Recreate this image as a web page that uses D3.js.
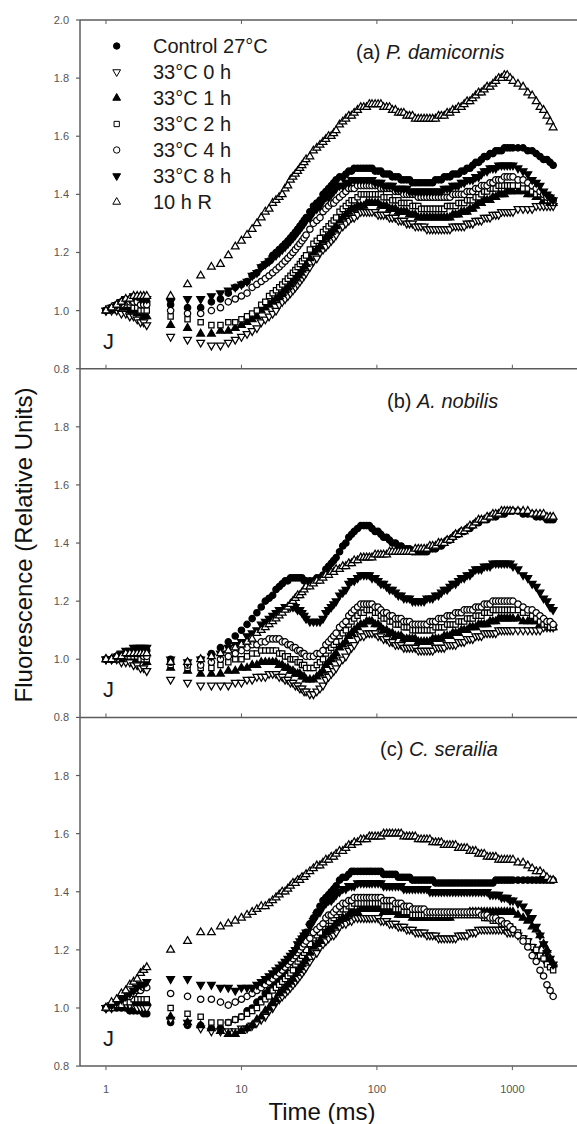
<!DOCTYPE html>
<html>
<head>
<meta charset="utf-8">
<script src="https://cdn.jsdelivr.net/npm/d3@7"></script>
<style>
  body { margin: 0; background: #fff; }
  svg { display: block; font-family: Arial, "Liberation Sans", Helvetica, sans-serif; }
</style>
</head>
<body>
<svg id="chart" width="577" height="1124"></svg>
<script>
// Sampling times (ms): J-phase block, 1 ms steps, then progressively wider steps to 2 s
const timeMs = [
  1.0,1.1,1.2,1.3,1.4,1.5,1.6,1.7,1.8,1.9,2.0,
  3,4,5,6,7,8,9,10,11,12,
  13,14,15,16,17,18,19,20,
  21,22,23,24,25,26,27,28,29,30,
  32,34,36,38,40,42,44,46,48,50,
  53,56,59,62,65,68,72,76,80,84,
  88,92,97,102,107,112,118,124,130,137,
  144,151,158,166,174,183,192,202,212,223,
  234,246,258,271,285,299,314,330,346,363,
  381,400,420,441,463,486,510,536,563,591,
  620,651,684,718,754,792,831,873,916,962,
  1010,1100,1200,1300,1400,1500,1600,1700,1800,1900,
  2000
];

const seriesNames = ["Control 27°C", "33°C 0 h", "33°C 1 h", "33°C 2 h", "33°C 4 h", "33°C 8 h", "10 h R"];
const xTickValues = [1, 10, 100, 1000];
const yTickValues = [0.8, 1.0, 1.2, 1.4, 1.6, 1.8, 2.0];

// ===== (a) P. damicornis =====
const ctrlA = [
  1.00,1.01,1.02,1.03,1.03,1.04,1.04,1.04,1.03,1.03,1.03,
  1.02,1.01,1.01,1.03,1.04,1.06,1.08,1.09,1.10,1.12,
  1.13,1.15,1.16,1.17,1.19,1.20,1.21,1.22,
  1.23,1.24,1.25,1.26,1.27,1.28,1.29,1.30,1.31,1.32,
  1.34,1.36,1.37,1.38,1.40,1.41,1.42,1.43,1.44,1.45,
  1.46,1.46,1.47,1.48,1.48,1.49,1.49,1.49,1.49,1.49,
  1.49,1.49,1.48,1.48,1.48,1.47,1.47,1.47,1.46,1.46,
  1.46,1.45,1.45,1.45,1.45,1.44,1.44,1.44,1.44,1.44,
  1.44,1.44,1.44,1.45,1.45,1.45,1.46,1.46,1.46,1.47,
  1.47,1.47,1.48,1.48,1.49,1.49,1.50,1.51,1.51,1.52,
  1.53,1.53,1.54,1.54,1.55,1.55,1.55,1.56,1.56,1.56,
  1.56,1.56,1.56,1.55,1.55,1.54,1.53,1.52,1.52,1.51,
  1.50];
const h0A = [
  1.00,1.00,1.00,0.99,0.99,0.98,0.98,0.97,0.96,0.96,0.95,
  0.91,0.90,0.89,0.88,0.88,0.89,0.90,0.91,0.92,0.93,
  0.94,0.96,0.97,0.98,0.99,1.00,1.02,1.03,
  1.04,1.05,1.06,1.07,1.08,1.09,1.10,1.11,1.12,1.13,
  1.15,1.17,1.18,1.20,1.21,1.22,1.23,1.24,1.25,1.26,
  1.28,1.29,1.30,1.31,1.32,1.32,1.33,1.34,1.34,1.34,
  1.34,1.34,1.34,1.33,1.33,1.33,1.33,1.32,1.32,1.32,
  1.31,1.31,1.31,1.30,1.30,1.30,1.29,1.29,1.29,1.29,
  1.28,1.28,1.28,1.28,1.28,1.28,1.28,1.28,1.28,1.29,
  1.29,1.29,1.29,1.29,1.30,1.30,1.30,1.31,1.31,1.31,
  1.32,1.32,1.32,1.33,1.33,1.33,1.34,1.34,1.34,1.34,
  1.34,1.35,1.35,1.35,1.35,1.36,1.36,1.36,1.36,1.36,
  1.36];
const h1A = [
  1.00,1.00,1.01,1.01,1.01,1.00,1.00,0.99,0.99,0.98,0.98,
  0.95,0.94,0.92,0.92,0.93,0.93,0.94,0.95,0.96,0.97,
  0.98,1.00,1.01,1.02,1.03,1.04,1.05,1.06,
  1.07,1.08,1.09,1.10,1.11,1.12,1.13,1.14,1.15,1.16,
  1.18,1.20,1.21,1.22,1.24,1.25,1.26,1.27,1.28,1.29,
  1.31,1.32,1.33,1.34,1.35,1.35,1.36,1.36,1.36,1.37,
  1.37,1.37,1.37,1.37,1.36,1.36,1.36,1.35,1.35,1.35,
  1.34,1.34,1.34,1.34,1.33,1.33,1.33,1.32,1.32,1.32,
  1.32,1.32,1.32,1.32,1.32,1.32,1.32,1.32,1.32,1.33,
  1.33,1.33,1.34,1.34,1.34,1.35,1.35,1.36,1.37,1.37,
  1.38,1.38,1.38,1.39,1.39,1.40,1.40,1.40,1.41,1.41,
  1.41,1.41,1.41,1.40,1.40,1.39,1.39,1.38,1.38,1.37,
  1.37];
const h2A = [
  1.00,1.01,1.01,1.02,1.02,1.02,1.01,1.01,1.00,1.00,1.00,
  0.98,0.97,0.96,0.95,0.95,0.96,0.96,0.97,0.98,0.99,
  1.00,1.02,1.03,1.05,1.06,1.07,1.08,1.09,
  1.10,1.11,1.12,1.13,1.14,1.15,1.16,1.17,1.18,1.19,
  1.21,1.23,1.24,1.25,1.27,1.28,1.29,1.30,1.31,1.32,
  1.34,1.35,1.36,1.37,1.38,1.38,1.39,1.40,1.40,1.40,
  1.40,1.40,1.40,1.40,1.40,1.39,1.39,1.39,1.38,1.38,
  1.38,1.37,1.37,1.37,1.37,1.36,1.36,1.36,1.35,1.35,
  1.35,1.35,1.35,1.35,1.35,1.35,1.35,1.36,1.36,1.36,
  1.36,1.37,1.37,1.37,1.38,1.38,1.38,1.39,1.39,1.40,
  1.41,1.41,1.42,1.42,1.42,1.43,1.43,1.43,1.43,1.43,
  1.43,1.43,1.42,1.42,1.41,1.40,1.40,1.39,1.38,1.38,
  1.37];
const h4A = [
  1.00,1.01,1.02,1.02,1.03,1.03,1.03,1.03,1.02,1.02,1.02,
  1.00,0.99,0.99,1.00,1.01,1.03,1.04,1.05,1.06,1.08,
  1.09,1.10,1.11,1.12,1.13,1.14,1.15,1.16,
  1.17,1.18,1.19,1.20,1.21,1.22,1.23,1.24,1.25,1.26,
  1.28,1.30,1.31,1.32,1.34,1.35,1.36,1.37,1.37,1.38,
  1.39,1.40,1.41,1.42,1.42,1.42,1.43,1.43,1.43,1.43,
  1.43,1.43,1.43,1.43,1.42,1.42,1.42,1.42,1.42,1.41,
  1.41,1.41,1.40,1.40,1.40,1.40,1.40,1.39,1.39,1.39,
  1.39,1.39,1.39,1.39,1.39,1.39,1.39,1.39,1.39,1.40,
  1.40,1.40,1.40,1.40,1.41,1.41,1.41,1.42,1.42,1.43,
  1.43,1.43,1.44,1.44,1.45,1.45,1.45,1.46,1.46,1.46,
  1.46,1.45,1.45,1.44,1.43,1.42,1.41,1.40,1.39,1.39,
  1.38];
const h8A = [
  1.00,1.01,1.02,1.03,1.04,1.04,1.05,1.05,1.04,1.04,1.04,
  1.03,1.04,1.04,1.05,1.06,1.07,1.08,1.09,1.10,1.12,
  1.13,1.15,1.16,1.17,1.18,1.19,1.20,1.21,
  1.22,1.23,1.24,1.25,1.26,1.27,1.28,1.29,1.30,1.31,
  1.32,1.34,1.35,1.36,1.38,1.39,1.39,1.40,1.41,1.42,
  1.43,1.43,1.44,1.44,1.45,1.45,1.45,1.45,1.45,1.45,
  1.45,1.45,1.44,1.44,1.44,1.43,1.43,1.43,1.43,1.42,
  1.42,1.42,1.42,1.42,1.41,1.41,1.41,1.41,1.41,1.41,
  1.41,1.41,1.41,1.41,1.41,1.41,1.42,1.42,1.42,1.43,
  1.43,1.43,1.44,1.44,1.45,1.45,1.45,1.46,1.46,1.47,
  1.48,1.48,1.49,1.49,1.49,1.50,1.50,1.50,1.50,1.50,
  1.50,1.49,1.48,1.47,1.45,1.44,1.43,1.41,1.40,1.39,
  1.38];
const hRA = [
  1.00,1.01,1.02,1.03,1.04,1.04,1.05,1.05,1.05,1.05,1.05,
  1.05,1.09,1.12,1.15,1.16,1.19,1.22,1.24,1.26,1.28,
  1.30,1.32,1.34,1.35,1.37,1.38,1.39,1.40,
  1.42,1.43,1.45,1.46,1.47,1.48,1.49,1.50,1.51,1.52,
  1.53,1.55,1.56,1.57,1.58,1.59,1.60,1.60,1.61,1.62,
  1.64,1.65,1.66,1.67,1.67,1.68,1.69,1.70,1.70,1.70,
  1.71,1.71,1.71,1.71,1.71,1.70,1.70,1.70,1.69,1.69,
  1.68,1.68,1.68,1.67,1.67,1.67,1.66,1.66,1.66,1.66,
  1.66,1.66,1.66,1.66,1.67,1.67,1.67,1.68,1.68,1.69,
  1.69,1.70,1.70,1.71,1.72,1.72,1.73,1.74,1.75,1.75,
  1.76,1.77,1.77,1.78,1.79,1.80,1.80,1.81,1.81,1.80,
  1.79,1.78,1.77,1.75,1.74,1.72,1.70,1.69,1.67,1.65,
  1.63];

// ===== (b) A. nobilis =====
const ctrlB = [
  1.00,1.00,1.01,1.01,1.02,1.02,1.03,1.03,1.03,1.03,1.03,
  1.00,0.99,1.00,1.02,1.04,1.06,1.08,1.10,1.12,1.14,
  1.16,1.18,1.20,1.21,1.22,1.24,1.25,1.26,
  1.27,1.27,1.28,1.28,1.28,1.28,1.28,1.28,1.27,1.27,
  1.27,1.27,1.28,1.28,1.29,1.31,1.32,1.33,1.34,1.35,
  1.37,1.39,1.40,1.42,1.43,1.44,1.45,1.46,1.46,1.46,
  1.46,1.45,1.44,1.44,1.43,1.42,1.42,1.41,1.40,1.40,
  1.39,1.39,1.38,1.38,1.38,1.37,1.37,1.37,1.37,1.37,
  1.37,1.38,1.38,1.38,1.39,1.39,1.40,1.41,1.41,1.42,
  1.43,1.43,1.44,1.44,1.45,1.45,1.46,1.47,1.47,1.48,
  1.48,1.48,1.49,1.49,1.49,1.50,1.50,1.50,1.51,1.51,
  1.51,1.51,1.50,1.50,1.50,1.49,1.49,1.49,1.48,1.48,
  1.48];
const h0B = [
  1.00,1.00,1.00,0.99,0.99,0.99,0.98,0.98,0.97,0.97,0.96,
  0.93,0.92,0.91,0.91,0.91,0.91,0.92,0.92,0.93,0.93,
  0.94,0.94,0.94,0.95,0.95,0.95,0.94,0.94,
  0.93,0.93,0.92,0.92,0.91,0.91,0.90,0.90,0.89,0.89,
  0.88,0.88,0.89,0.90,0.91,0.93,0.94,0.95,0.96,0.97,
  0.99,1.00,1.01,1.03,1.04,1.05,1.07,1.08,1.08,1.09,
  1.09,1.09,1.09,1.08,1.08,1.07,1.07,1.06,1.06,1.05,
  1.05,1.05,1.04,1.04,1.04,1.04,1.04,1.03,1.03,1.03,
  1.03,1.03,1.03,1.04,1.04,1.04,1.04,1.05,1.05,1.05,
  1.05,1.06,1.06,1.06,1.07,1.07,1.07,1.08,1.08,1.08,
  1.09,1.09,1.09,1.09,1.09,1.10,1.10,1.10,1.10,1.10,
  1.10,1.10,1.10,1.10,1.10,1.10,1.10,1.11,1.11,1.11,
  1.11];
const h1B = [
  1.00,1.00,1.00,1.00,1.01,1.01,1.01,1.00,1.00,1.00,0.99,
  0.97,0.96,0.95,0.95,0.95,0.96,0.96,0.97,0.97,0.98,
  0.98,0.99,0.99,0.99,0.99,0.99,0.98,0.98,
  0.97,0.97,0.96,0.96,0.95,0.95,0.95,0.94,0.94,0.93,
  0.93,0.93,0.94,0.95,0.96,0.98,0.99,1.00,1.01,1.02,
  1.04,1.05,1.06,1.08,1.09,1.10,1.11,1.12,1.12,1.13,
  1.13,1.13,1.12,1.12,1.11,1.10,1.10,1.09,1.09,1.08,
  1.08,1.08,1.07,1.07,1.07,1.07,1.07,1.06,1.06,1.06,
  1.06,1.06,1.07,1.07,1.07,1.07,1.08,1.08,1.08,1.09,
  1.09,1.09,1.10,1.10,1.10,1.11,1.11,1.11,1.12,1.12,
  1.12,1.12,1.13,1.13,1.13,1.14,1.14,1.14,1.14,1.14,
  1.14,1.14,1.13,1.13,1.13,1.13,1.12,1.12,1.12,1.11,
  1.11];
const h2B = [
  1.00,1.00,1.00,1.01,1.01,1.01,1.01,1.01,1.00,1.00,1.00,
  0.98,0.97,0.97,0.97,0.98,0.99,1.00,1.00,1.01,1.02,
  1.02,1.03,1.03,1.03,1.03,1.03,1.02,1.02,
  1.01,1.01,1.00,1.00,1.00,0.99,0.99,0.98,0.98,0.97,
  0.97,0.97,0.98,0.99,1.00,1.02,1.03,1.04,1.05,1.06,
  1.08,1.09,1.10,1.12,1.13,1.14,1.15,1.16,1.16,1.17,
  1.17,1.17,1.16,1.16,1.15,1.14,1.14,1.13,1.13,1.12,
  1.12,1.12,1.11,1.11,1.11,1.10,1.10,1.10,1.10,1.10,
  1.10,1.10,1.10,1.11,1.11,1.11,1.11,1.12,1.12,1.12,
  1.12,1.13,1.13,1.13,1.14,1.14,1.14,1.15,1.15,1.15,
  1.16,1.16,1.16,1.17,1.17,1.17,1.17,1.17,1.17,1.17,
  1.17,1.17,1.16,1.16,1.15,1.14,1.13,1.12,1.12,1.11,
  1.11];
const h4B = [
  1.00,1.00,1.01,1.01,1.02,1.02,1.02,1.02,1.02,1.01,1.01,
  0.99,0.98,0.98,0.99,1.00,1.01,1.02,1.03,1.04,1.05,
  1.05,1.06,1.06,1.07,1.07,1.07,1.07,1.06,
  1.06,1.05,1.05,1.04,1.04,1.03,1.03,1.02,1.02,1.01,
  1.01,1.01,1.02,1.02,1.03,1.05,1.06,1.07,1.08,1.09,
  1.11,1.12,1.13,1.15,1.16,1.17,1.18,1.19,1.19,1.19,
  1.19,1.19,1.18,1.18,1.17,1.16,1.16,1.15,1.15,1.14,
  1.14,1.14,1.13,1.13,1.13,1.12,1.12,1.12,1.12,1.12,
  1.12,1.13,1.13,1.13,1.14,1.14,1.14,1.15,1.15,1.15,
  1.16,1.16,1.16,1.17,1.17,1.17,1.17,1.18,1.18,1.18,
  1.19,1.19,1.19,1.20,1.20,1.20,1.20,1.20,1.20,1.20,
  1.20,1.19,1.18,1.17,1.17,1.16,1.15,1.14,1.13,1.13,
  1.12];
const h8B = [
  1.00,1.00,1.01,1.02,1.03,1.03,1.04,1.04,1.04,1.04,1.04,
  1.00,0.99,1.00,1.01,1.02,1.04,1.05,1.06,1.08,1.09,
  1.10,1.12,1.13,1.14,1.15,1.16,1.17,1.17,
  1.18,1.18,1.18,1.18,1.18,1.17,1.17,1.16,1.15,1.14,
  1.13,1.13,1.13,1.13,1.14,1.16,1.17,1.18,1.19,1.20,
  1.22,1.23,1.24,1.26,1.27,1.27,1.28,1.29,1.29,1.29,
  1.29,1.28,1.28,1.27,1.26,1.26,1.25,1.24,1.24,1.23,
  1.22,1.22,1.21,1.21,1.21,1.20,1.20,1.20,1.20,1.20,
  1.21,1.21,1.21,1.22,1.22,1.23,1.24,1.24,1.25,1.26,
  1.26,1.27,1.28,1.28,1.29,1.29,1.30,1.31,1.31,1.31,
  1.32,1.32,1.32,1.33,1.33,1.33,1.33,1.33,1.33,1.33,
  1.32,1.31,1.29,1.28,1.26,1.25,1.23,1.21,1.20,1.18,
  1.17];
const hRB = [
  1.00,1.00,1.01,1.01,1.02,1.02,1.02,1.02,1.02,1.02,1.02,
  0.99,0.99,1.00,1.01,1.02,1.03,1.04,1.05,1.06,1.07,
  1.09,1.10,1.11,1.12,1.13,1.14,1.15,1.16,
  1.17,1.18,1.19,1.20,1.21,1.22,1.22,1.23,1.24,1.25,
  1.25,1.26,1.27,1.27,1.28,1.29,1.29,1.30,1.30,1.31,
  1.31,1.32,1.32,1.33,1.33,1.34,1.34,1.35,1.35,1.35,
  1.35,1.35,1.36,1.36,1.36,1.36,1.36,1.37,1.37,1.37,
  1.37,1.37,1.37,1.37,1.37,1.37,1.38,1.38,1.38,1.38,
  1.38,1.39,1.39,1.39,1.40,1.40,1.40,1.41,1.41,1.42,
  1.43,1.43,1.44,1.44,1.45,1.46,1.46,1.47,1.48,1.48,
  1.48,1.49,1.49,1.50,1.50,1.50,1.51,1.51,1.51,1.51,
  1.51,1.51,1.51,1.51,1.50,1.50,1.50,1.50,1.49,1.49,
  1.49];

// ===== (c) C. serailia =====
const ctrlC = [
  1.00,1.00,1.00,1.00,1.00,0.99,0.99,0.99,0.99,0.98,0.98,
  0.95,0.94,0.94,0.93,0.93,0.95,0.96,0.97,0.99,1.00,
  1.02,1.03,1.05,1.06,1.08,1.09,1.10,1.12,
  1.13,1.15,1.16,1.18,1.19,1.21,1.22,1.24,1.25,1.26,
  1.29,1.31,1.33,1.35,1.37,1.38,1.39,1.40,1.41,1.42,
  1.44,1.45,1.45,1.46,1.47,1.47,1.47,1.47,1.47,1.47,
  1.47,1.47,1.47,1.47,1.47,1.46,1.46,1.46,1.46,1.46,
  1.45,1.45,1.45,1.45,1.45,1.44,1.44,1.44,1.44,1.44,
  1.44,1.44,1.44,1.43,1.43,1.43,1.43,1.43,1.43,1.43,
  1.43,1.43,1.43,1.43,1.43,1.43,1.43,1.43,1.43,1.43,
  1.43,1.43,1.43,1.43,1.44,1.44,1.44,1.44,1.44,1.44,
  1.44,1.44,1.44,1.44,1.44,1.44,1.44,1.44,1.44,1.44,
  1.44];
const h0C = [
  1.00,1.00,1.01,1.01,1.01,1.01,1.01,1.00,1.00,1.00,1.00,
  0.96,0.95,0.93,0.92,0.92,0.92,0.92,0.93,0.93,0.94,
  0.95,0.96,0.97,0.99,1.00,1.02,1.03,1.04,
  1.05,1.06,1.07,1.08,1.09,1.10,1.11,1.12,1.13,1.14,
  1.16,1.18,1.19,1.21,1.22,1.23,1.24,1.25,1.25,1.26,
  1.28,1.29,1.29,1.30,1.30,1.31,1.31,1.31,1.31,1.31,
  1.31,1.31,1.31,1.31,1.30,1.30,1.30,1.29,1.29,1.29,
  1.28,1.28,1.28,1.27,1.27,1.27,1.26,1.26,1.26,1.26,
  1.25,1.25,1.25,1.25,1.24,1.24,1.24,1.24,1.24,1.24,
  1.24,1.25,1.25,1.25,1.25,1.26,1.26,1.26,1.27,1.27,
  1.27,1.27,1.27,1.27,1.27,1.27,1.27,1.27,1.26,1.26,
  1.26,1.25,1.24,1.23,1.21,1.20,1.18,1.17,1.16,1.15,
  1.14];
const h1C = [
  1.00,1.00,1.01,1.01,1.02,1.02,1.02,1.02,1.02,1.02,1.02,
  0.97,0.95,0.94,0.93,0.92,0.91,0.91,0.92,0.93,0.94,
  0.96,0.97,0.99,1.00,1.02,1.03,1.05,1.06,
  1.07,1.08,1.09,1.10,1.12,1.13,1.14,1.15,1.16,1.17,
  1.19,1.21,1.22,1.23,1.25,1.26,1.27,1.27,1.28,1.29,
  1.30,1.31,1.31,1.32,1.33,1.33,1.33,1.34,1.34,1.34,
  1.34,1.34,1.34,1.34,1.34,1.33,1.33,1.33,1.33,1.33,
  1.32,1.32,1.32,1.32,1.32,1.31,1.31,1.31,1.31,1.31,
  1.31,1.31,1.31,1.31,1.31,1.31,1.31,1.31,1.31,1.32,
  1.32,1.32,1.32,1.32,1.32,1.33,1.33,1.33,1.33,1.33,
  1.33,1.33,1.33,1.33,1.33,1.33,1.33,1.33,1.33,1.33,
  1.33,1.32,1.31,1.30,1.28,1.27,1.25,1.22,1.20,1.17,
  1.15];
const h2C = [
  1.00,1.00,1.01,1.01,1.02,1.02,1.03,1.03,1.03,1.03,1.03,
  1.00,0.98,0.97,0.95,0.95,0.95,0.96,0.97,0.98,0.99,
  1.00,1.02,1.03,1.04,1.06,1.07,1.08,1.09,
  1.10,1.11,1.12,1.13,1.15,1.16,1.17,1.18,1.19,1.20,
  1.22,1.24,1.25,1.26,1.28,1.29,1.30,1.30,1.31,1.32,
  1.33,1.34,1.34,1.35,1.35,1.36,1.36,1.36,1.36,1.36,
  1.36,1.36,1.36,1.36,1.36,1.35,1.35,1.35,1.35,1.34,
  1.34,1.34,1.33,1.33,1.33,1.32,1.32,1.32,1.32,1.32,
  1.32,1.32,1.32,1.32,1.32,1.32,1.32,1.32,1.32,1.32,
  1.32,1.32,1.32,1.32,1.32,1.32,1.32,1.32,1.32,1.32,
  1.31,1.31,1.31,1.30,1.30,1.30,1.29,1.29,1.28,1.28,
  1.27,1.26,1.24,1.23,1.21,1.20,1.18,1.17,1.15,1.14,
  1.13];
const h4C = [
  1.00,1.01,1.02,1.03,1.04,1.04,1.05,1.06,1.06,1.07,1.07,
  1.05,1.04,1.03,1.03,1.02,1.01,1.02,1.03,1.04,1.05,
  1.06,1.07,1.08,1.09,1.10,1.11,1.12,1.13,
  1.14,1.15,1.16,1.17,1.18,1.19,1.20,1.21,1.22,1.23,
  1.24,1.26,1.27,1.28,1.29,1.31,1.32,1.32,1.33,1.34,
  1.35,1.36,1.36,1.37,1.37,1.38,1.38,1.38,1.38,1.38,
  1.38,1.38,1.38,1.38,1.38,1.37,1.37,1.37,1.37,1.36,
  1.36,1.36,1.35,1.35,1.35,1.34,1.34,1.34,1.34,1.34,
  1.33,1.33,1.33,1.33,1.33,1.33,1.33,1.33,1.33,1.33,
  1.33,1.33,1.33,1.33,1.33,1.33,1.33,1.33,1.33,1.32,
  1.32,1.32,1.31,1.31,1.31,1.30,1.30,1.29,1.29,1.28,
  1.27,1.25,1.23,1.21,1.18,1.16,1.13,1.11,1.08,1.06,
  1.04];
const h8C = [
  1.00,1.01,1.02,1.03,1.04,1.05,1.06,1.07,1.08,1.08,1.09,
  1.10,1.10,1.08,1.08,1.07,1.07,1.06,1.07,1.07,1.07,
  1.08,1.09,1.10,1.11,1.12,1.13,1.14,1.15,
  1.16,1.17,1.18,1.19,1.20,1.22,1.23,1.24,1.25,1.26,
  1.28,1.30,1.32,1.33,1.35,1.36,1.37,1.37,1.38,1.39,
  1.40,1.41,1.41,1.42,1.42,1.42,1.43,1.43,1.43,1.43,
  1.43,1.43,1.43,1.43,1.43,1.42,1.42,1.42,1.42,1.42,
  1.42,1.42,1.41,1.41,1.41,1.41,1.41,1.41,1.41,1.41,
  1.41,1.40,1.40,1.40,1.40,1.40,1.40,1.40,1.40,1.40,
  1.40,1.40,1.40,1.40,1.40,1.40,1.40,1.40,1.40,1.40,
  1.40,1.40,1.39,1.39,1.39,1.39,1.38,1.38,1.38,1.37,
  1.37,1.36,1.35,1.33,1.31,1.28,1.25,1.22,1.19,1.17,
  1.15];
const hRC = [
  1.00,1.02,1.03,1.05,1.06,1.08,1.09,1.10,1.12,1.13,1.14,
  1.20,1.23,1.26,1.26,1.28,1.29,1.30,1.31,1.32,1.33,
  1.34,1.35,1.35,1.36,1.37,1.38,1.39,1.40,
  1.40,1.41,1.42,1.43,1.43,1.44,1.44,1.45,1.45,1.46,
  1.47,1.48,1.49,1.49,1.50,1.51,1.51,1.52,1.52,1.53,
  1.54,1.54,1.55,1.56,1.56,1.57,1.57,1.58,1.58,1.58,
  1.59,1.59,1.59,1.59,1.59,1.60,1.60,1.60,1.60,1.60,
  1.60,1.60,1.59,1.59,1.59,1.59,1.59,1.58,1.58,1.58,
  1.58,1.58,1.57,1.57,1.57,1.57,1.56,1.56,1.56,1.56,
  1.56,1.55,1.55,1.55,1.55,1.54,1.54,1.54,1.53,1.53,
  1.53,1.52,1.52,1.52,1.52,1.51,1.51,1.51,1.51,1.51,
  1.51,1.50,1.50,1.49,1.48,1.47,1.47,1.46,1.45,1.44,
  1.44];

// ---- layout ----
const W = 577, H = 1124;
const plotLeft = 80, plotRight = 577;
const panelH = 348.7;
const axisColor = "#5c5c5c";

const panels = [
  { top: 20,    label: "(a) ", species: "P. damicornis", titleX: 356, series: [ctrlA, h0A, h1A, h2A, h4A, h8A, hRA] },
  { top: 368.7, label: "(b) ", species: "A. nobilis",    titleX: 387, series: [ctrlB, h0B, h1B, h2B, h4B, h8B, hRB] },
  { top: 717.4, label: "(c) ", species: "C. serailia",   titleX: 380, series: [ctrlC, h0C, h1C, h2C, h4C, h8C, hRC] }
];

// marker style per treatment: shape, filled?, rotation
const markerStyle = [
  { type: d3.symbolCircle,   size: 32, fill: true,  rot: 0 },
  { type: d3.symbolTriangle, size: 26, fill: false, rot: 180 },
  { type: d3.symbolTriangle, size: 26, fill: true,  rot: 0 },
  { type: d3.symbolSquare,   size: 28, fill: false, rot: 0 },
  { type: d3.symbolCircle,   size: 32, fill: false, rot: 0 },
  { type: d3.symbolTriangle, size: 26, fill: true,  rot: 180 },
  { type: d3.symbolTriangle, size: 26, fill: false, rot: 0 }
];

const svg = d3.select("#chart");
svg.append("rect").attr("width", W).attr("height", H).attr("fill", "#fff");

const x = d3.scaleLog().domain([0.643, 3000]).range([plotLeft, plotRight]);

function drawMarker(g, style, px, py, sw) {
  g.append("path")
    .attr("d", d3.symbol().type(style.type).size(style.size)())
    .attr("transform", `translate(${px},${py}) rotate(${style.rot})`)
    .attr("fill", style.fill ? "#000" : "#fff")
    .attr("stroke", "#000")
    .attr("stroke-width", sw);
}

panels.forEach((p, pi) => {
  const bottom = p.top + panelH;
  const y = d3.scaleLinear().domain([0.8, 2.0]).range([bottom, p.top]);
  const g = svg.append("g");

  // data markers, one layer per treatment in legend order
  p.series.forEach((vals, si) => {
    const layer = g.append("g");
    const n = Math.min(vals.length, timeMs.length);
    for (let i = 0; i < n; i++) drawMarker(layer, markerStyle[si], x(timeMs[i]), y(vals[i]), 1.25);
  });

  // y ticks (outward) and labels
  yTickValues.forEach(v => {
    if (pi > 0 && v === 2.0) return;
    g.append("line").attr("x1", plotLeft - 4).attr("x2", plotLeft)
      .attr("y1", y(v)).attr("y2", y(v)).attr("stroke", axisColor).attr("stroke-width", 1.2);
    g.append("text").attr("x", plotLeft - 11).attr("y", y(v) + 4)
      .attr("text-anchor", "end").attr("font-size", 11).attr("fill", "#555")
      .text(d3.format(".1f")(v));
  });

  // bottom axis line of the panel with inward ticks (outward on the last panel)
  g.append("line").attr("x1", plotLeft).attr("x2", plotRight)
    .attr("y1", bottom).attr("y2", bottom).attr("stroke", axisColor).attr("stroke-width", 1.5);
  xTickValues.forEach(t => {
    const dir = pi === 2 ? 4 : -4;
    g.append("line").attr("x1", x(t)).attr("x2", x(t))
      .attr("y1", bottom).attr("y2", bottom + dir).attr("stroke", axisColor).attr("stroke-width", 1);
  });

  // panel title
  const title = g.append("text").attr("x", p.titleX).attr("y", p.top + 39)
    .attr("font-size", 20).attr("fill", "#1a1a1a");
  title.append("tspan").text(p.label);
  title.append("tspan").attr("font-style", "italic").text(p.species);

  // J-step marker
  g.append("text").attr("x", 103).attr("y", bottom - 20)
    .attr("font-size", 22).attr("fill", "#1a1a1a").text("J");
});

// top frame line with inward ticks
svg.append("line").attr("x1", plotLeft).attr("x2", plotRight)
  .attr("y1", panels[0].top).attr("y2", panels[0].top).attr("stroke", axisColor).attr("stroke-width", 1.5);
xTickValues.forEach(t => {
  svg.append("line").attr("x1", x(t)).attr("x2", x(t))
    .attr("y1", panels[0].top).attr("y2", panels[0].top + 4).attr("stroke", axisColor).attr("stroke-width", 1);
});

// left axis line
const yEnd = panels[2].top + panelH;
svg.append("line").attr("x1", plotLeft).attr("x2", plotLeft)
  .attr("y1", panels[0].top).attr("y2", yEnd).attr("stroke", axisColor).attr("stroke-width", 1.5);

// x tick labels
xTickValues.forEach(t => {
  svg.append("text").attr("x", x(t)).attr("y", yEnd + 27)
    .attr("text-anchor", "middle").attr("font-size", 11).attr("fill", "#555").text(t);
});

// axis titles
svg.append("text").attr("x", 322).attr("y", 1120).attr("text-anchor", "middle")
  .attr("font-size", 24).attr("fill", "#111").text("Time (ms)");
svg.append("text").attr("transform", "translate(32,545) rotate(-90)").attr("text-anchor", "middle")
  .attr("font-size", 24).attr("fill", "#111").text("Fluorescence (Relative Units)");

// legend
const legend = svg.append("g");
seriesNames.forEach((name, i) => {
  const ly = 46 + i * 26;
  drawMarker(legend, markerStyle[i], 116.7, ly, 1.0);
  legend.append("text").attr("x", 153).attr("y", ly + 7)
    .attr("font-size", 20).attr("fill", "#1a1a1a").text(name);
});
</script>
</body>
</html>
